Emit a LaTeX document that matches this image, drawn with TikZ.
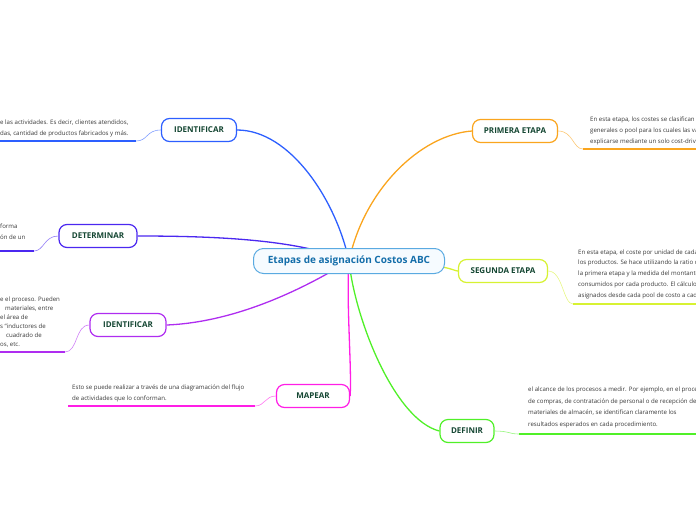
\documentclass[tikz,border=0pt]{standalone}
\usepackage{fontspec}
\setmainfont{Open Sans}
\usetikzlibrary{backgrounds}
\definecolor{abcblue}{RGB}{45,95,255}
\definecolor{abcindigo}{RGB}{75,40,240}
\definecolor{abcpurple}{RGB}{175,45,240}
\definecolor{abcmagenta}{RGB}{255,30,230}
\definecolor{abcorange}{RGB}{250,165,30}
\definecolor{abclime}{RGB}{215,242,50}
\definecolor{abcgreen}{RGB}{80,240,40}
\definecolor{abcsky}{RGB}{90,170,225}
\definecolor{abcpale}{RGB}{246,251,255}
\definecolor{abcroot}{RGB}{20,110,170}
\definecolor{abclabel}{RGB}{20,70,50}
\definecolor{abctext}{RGB}{55,55,55}

\begin{document}
\begin{tikzpicture}[x=1pt, y=-1pt,
  topic/.style={draw=#1, fill=white, line width=1.2pt, rounded corners=8pt, minimum height=23pt, font=\fontsize{8}{9}\selectfont\bfseries, text=abclabel},
  note/.style={font=\fontsize{6.1}{10.8}\selectfont, text=abctext, align=left, inner sep=0pt, anchor=south west},
  branch/.style={line width=1.3pt, #1},
  twig/.style={line width=0.6pt, #1!60},
  rule/.style={line width=1.6pt, #1}]
  \useasboundingbox (0,0) rectangle (696,520);

  % central topic
  \node[draw=abcsky, fill=abcpale, line width=1pt, rounded corners=10pt, minimum width=191pt, minimum height=25pt, font=\fontsize{10}{12}\selectfont\bfseries, text=abcroot] (root) at (349,261) {Etapas de asignación Costos ABC};

  % main topics
  \node[topic=abcblue, minimum width=75pt] (idA) at (199,130) {IDENTIFICAR};
  \node[topic=abcindigo, minimum width=78pt] (det) at (98,236) {DETERMINAR};
  \node[topic=abcpurple, minimum width=76pt] (idB) at (128,325) {IDENTIFICAR};
  \node[topic=abcmagenta, minimum width=73pt] (map) at (313,396) {MAPEAR};
  \node[topic=abcorange, minimum width=85pt] (pri) at (515,131) {PRIMERA ETAPA};
  \node[topic=abclime, minimum width=89pt] (seg) at (503,271) {SEGUNDA ETAPA};
  \node[topic=abcgreen, minimum width=54pt] (def) at (467,431) {DEFINIR};

  % branches from the centre
  \begin{scope}[on background layer]
    \draw[branch=abcblue] (idA.east) .. controls (290,130) and (336,200) .. (root.center);
    \draw[branch=abcorange] (pri.west) .. controls (420,135) and (364,190) .. (root.center);
    \draw[branch=abcindigo] (det.east) .. controls (220,236) and (300,240) .. (root.center);
    \draw[branch=abclime] (seg.west) .. controls (452,271) and (450,262) .. (root.center);
    \draw[branch=abcpurple] (idB.east) .. controls (240,322) and (310,285) .. (root.center);
    \draw[branch=abcmagenta] (map.east) .. controls (352,370) and (346,300) .. (root.center);
    \draw[branch=abcgreen] (def.west) .. controls (395,420) and (355,320) .. (root.center);
  \end{scope}

  % left notes
  \coordinate (idA-a) at (136,141);
  \coordinate (idA-b) at (0,141);
  \draw[twig=abcblue] (idA.west) .. controls (146,130) and (148,141) .. (idA-a);
  \draw[rule=abcblue] (idA-a) -- (idA-b);
  \node[note] (idA-t) at ([yshift=4pt]idA-b) {e las actividades. Es decir, clientes atendidos,\\das, cantidad de productos fabricados y más.};

  \coordinate (det-a) at (34,251);
  \coordinate (det-b) at (0,251);
  \draw[twig=abcindigo] (det.west) .. controls (44,236) and (44,251) .. (det-a);
  \draw[rule=abcindigo] (det-a) -- (det-b);
  \node[note] (det-t) at ([yshift=11pt]det-b) {forma\\ón de un};

  \coordinate (idB-a) at (65,352);
  \coordinate (idB-b) at (0,352);
  \draw[twig=abcpurple] (idB.west) .. controls (75,325) and (78,352) .. (idB-a);
  \draw[rule=abcpurple] (idB-a) -- (idB-b);
  \node[note, font=\fontsize{6.1}{9}\selectfont] (idB-t) at ([yshift=5pt]idB-b) {e el proceso. Pueden\\\hspace*{5pt}materiales, entre\\el área de\\s “inductores de\\\hspace*{6pt}cuadrado de\\os, etc.};

  \coordinate (map-a) at (255,406);
  \coordinate (map-b) at (68,406);
  \draw[twig=abcmagenta] (map.west) .. controls (265,396) and (265,406) .. (map-a);
  \draw[rule=abcmagenta] (map-a) -- (map-b);
  \node[note] (map-t) at ([xshift=4pt, yshift=4pt]map-b) {Esto se puede realizar a través de una diagramación del flujo\\de actividades que lo conforman.};

  % right notes
  \coordinate (pri-a) at (583,149);
  \coordinate (pri-b) at (696,149);
  \draw[twig=abcorange] (pri.east) .. controls (573,131) and (573,149) .. (pri-a);
  \draw[rule=abcorange] (pri-a) -- (pri-b);
  \node[note] (pri-t) at ([xshift=7pt, yshift=4pt]pri-a) {En esta etapa, los costes se clasifican\\generales o pool para los cuales las va\\explicarse mediante un solo cost-drive};

  \coordinate (seg-a) at (573,304);
  \coordinate (seg-b) at (696,304);
  \draw[twig=abclime] (seg.east) .. controls (563,271) and (563,304) .. (seg-a);
  \draw[rule=abclime] (seg-a) -- (seg-b);
  \node[note] (seg-t) at ([xshift=5pt, yshift=5pt]seg-a) {En esta etapa, el coste por unidad de cada\\los productos. Se hace utilizando la ratio d\\la primera etapa y la medida del montante\\consumidos por cada producto. El cálculo\\asignados desde cada pool de costo a cad};

  \coordinate (def-a) at (519,434);
  \coordinate (def-b) at (696,434);
  \draw[twig=abcgreen] (def.east) .. controls (509,431) and (509,434) .. (def-a);
  \draw[rule=abcgreen] (def-a) -- (def-b);
  \node[note, font=\fontsize{6.1}{11.5}\selectfont] (def-t) at ([xshift=9pt, yshift=6pt]def-a) {el alcance de los procesos a medir. Por ejemplo, en el proces\\de compras, de contratación de personal o de recepción de\\materiales de almacén, se identifican claramente los\\resultados esperados en cada procedimiento.};
\end{tikzpicture}
\end{document}
